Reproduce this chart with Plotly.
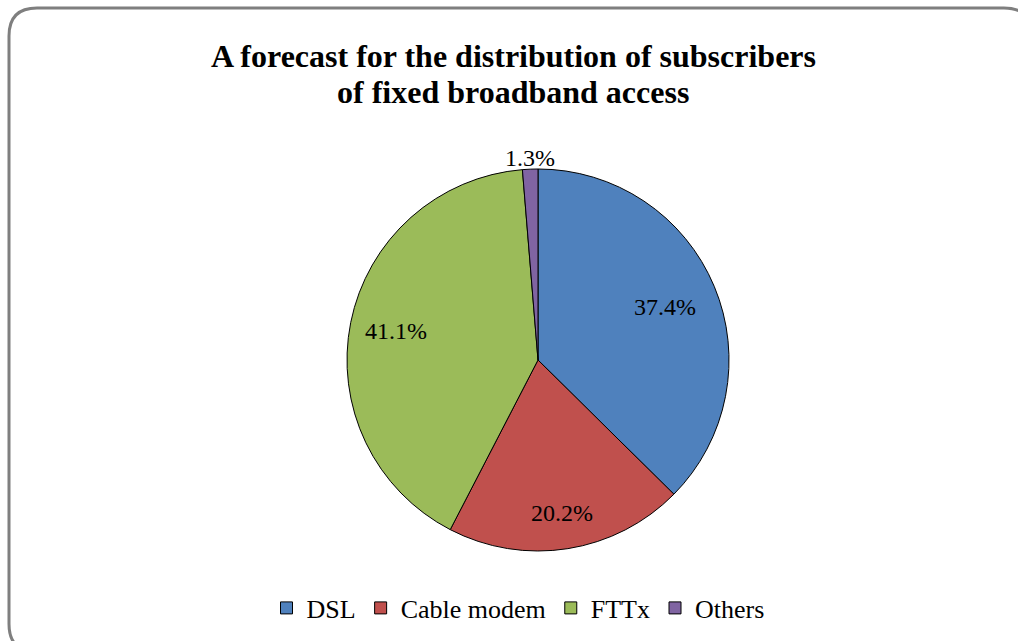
import numpy as np
import plotly.graph_objects as go

# Forecast share of fixed broadband subscribers by access technology
categories = ["DSL", "Cable modem", "FTTx", "Others"]
shares = [37.4, 20.2, 41.1, 1.3]
colors = ["#4F81BD", "#C0504D", "#9BBB59", "#8064A2"]
title_lines = ["A forecast for the distribution of subscribers", "of fixed broadband access"]

W, H = 1018, 641
SERIF = "Liberation Serif"


def px(x):
    return x / W


def py(y):
    return 1 - y / H


# pie geometry in pixels
CX, CY, R = 538, 360, 191
# radial placement of each value label, as a fraction of the radius
label_radius = [0.72, 0.81, 0.76, 1.06]

# rounded frame around the chart (right and bottom edges run off the canvas)
left, top, right, bottom, r = 9, 8, 1032, 652, 28
frame = (
    f"M {px(left)},{py(bottom - r)} "
    f"L {px(left)},{py(top + r)} "
    f"Q {px(left)},{py(top)} {px(left + r)},{py(top)} "
    f"L {px(right - r)},{py(top)} "
    f"Q {px(right)},{py(top)} {px(right)},{py(top + r)} "
    f"L {px(right)},{py(bottom - r)} "
    f"Q {px(right)},{py(bottom)} {px(right - r)},{py(bottom)} "
    f"L {px(left + r)},{py(bottom)} "
    f"Q {px(left)},{py(bottom)} {px(left)},{py(bottom - r)} Z"
)

fig = go.Figure(
    go.Pie(
        labels=categories,
        values=shares,
        sort=False,
        direction="clockwise",
        rotation=0,
        marker=dict(colors=colors, line=dict(color="#000000", width=1)),
        textinfo="none",
        domain=dict(x=[px(CX - R), px(CX + R)], y=[py(CY + R), py(CY - R)]),
        hoverinfo="label+percent",
    )
)

# value labels at the middle angle of each slice (clockwise from 12 o'clock)
vals = np.array(shares, dtype=float)
cum = np.cumsum(vals) - vals / 2
mid_angles = cum / vals.sum() * 2 * np.pi
annotations = []
for v, a, f in zip(shares, mid_angles, label_radius):
    annotations.append(dict(
        text=f"{v:.1f}%",
        x=px(CX + f * R * np.sin(a)), y=py(CY - f * R * np.cos(a)),
        xref="paper", yref="paper", xanchor="center", yanchor="middle",
        showarrow=False,
        font=dict(family=SERIF, size=24, color="#000000"),
    ))

# two-line bold title
for line, yc in zip(title_lines, [56, 92]):
    annotations.append(dict(
        text=f"<b>{line}</b>",
        x=px(513), y=py(yc), xref="paper", yref="paper",
        xanchor="center", yanchor="middle", showarrow=False,
        font=dict(family=SERIF, size=32, color="#000000"),
    ))

fig.update_layout(
    width=W,
    height=H,
    margin=dict(l=0, r=0, t=0, b=0),
    paper_bgcolor="#ffffff",
    plot_bgcolor="#ffffff",
    showlegend=True,
    legend=dict(
        orientation="h",
        x=px(518),
        xanchor="center",
        y=py(608),
        yanchor="middle",
        font=dict(family=SERIF, size=26, color="#000000"),
        traceorder="normal",
    ),
    shapes=[
        dict(type="path", path=frame, xref="paper", yref="paper",
             line=dict(color="#7f7f7f", width=3), fillcolor="rgba(0,0,0,0)")
    ],
    annotations=annotations,
)

fig.write_html("out.html")
